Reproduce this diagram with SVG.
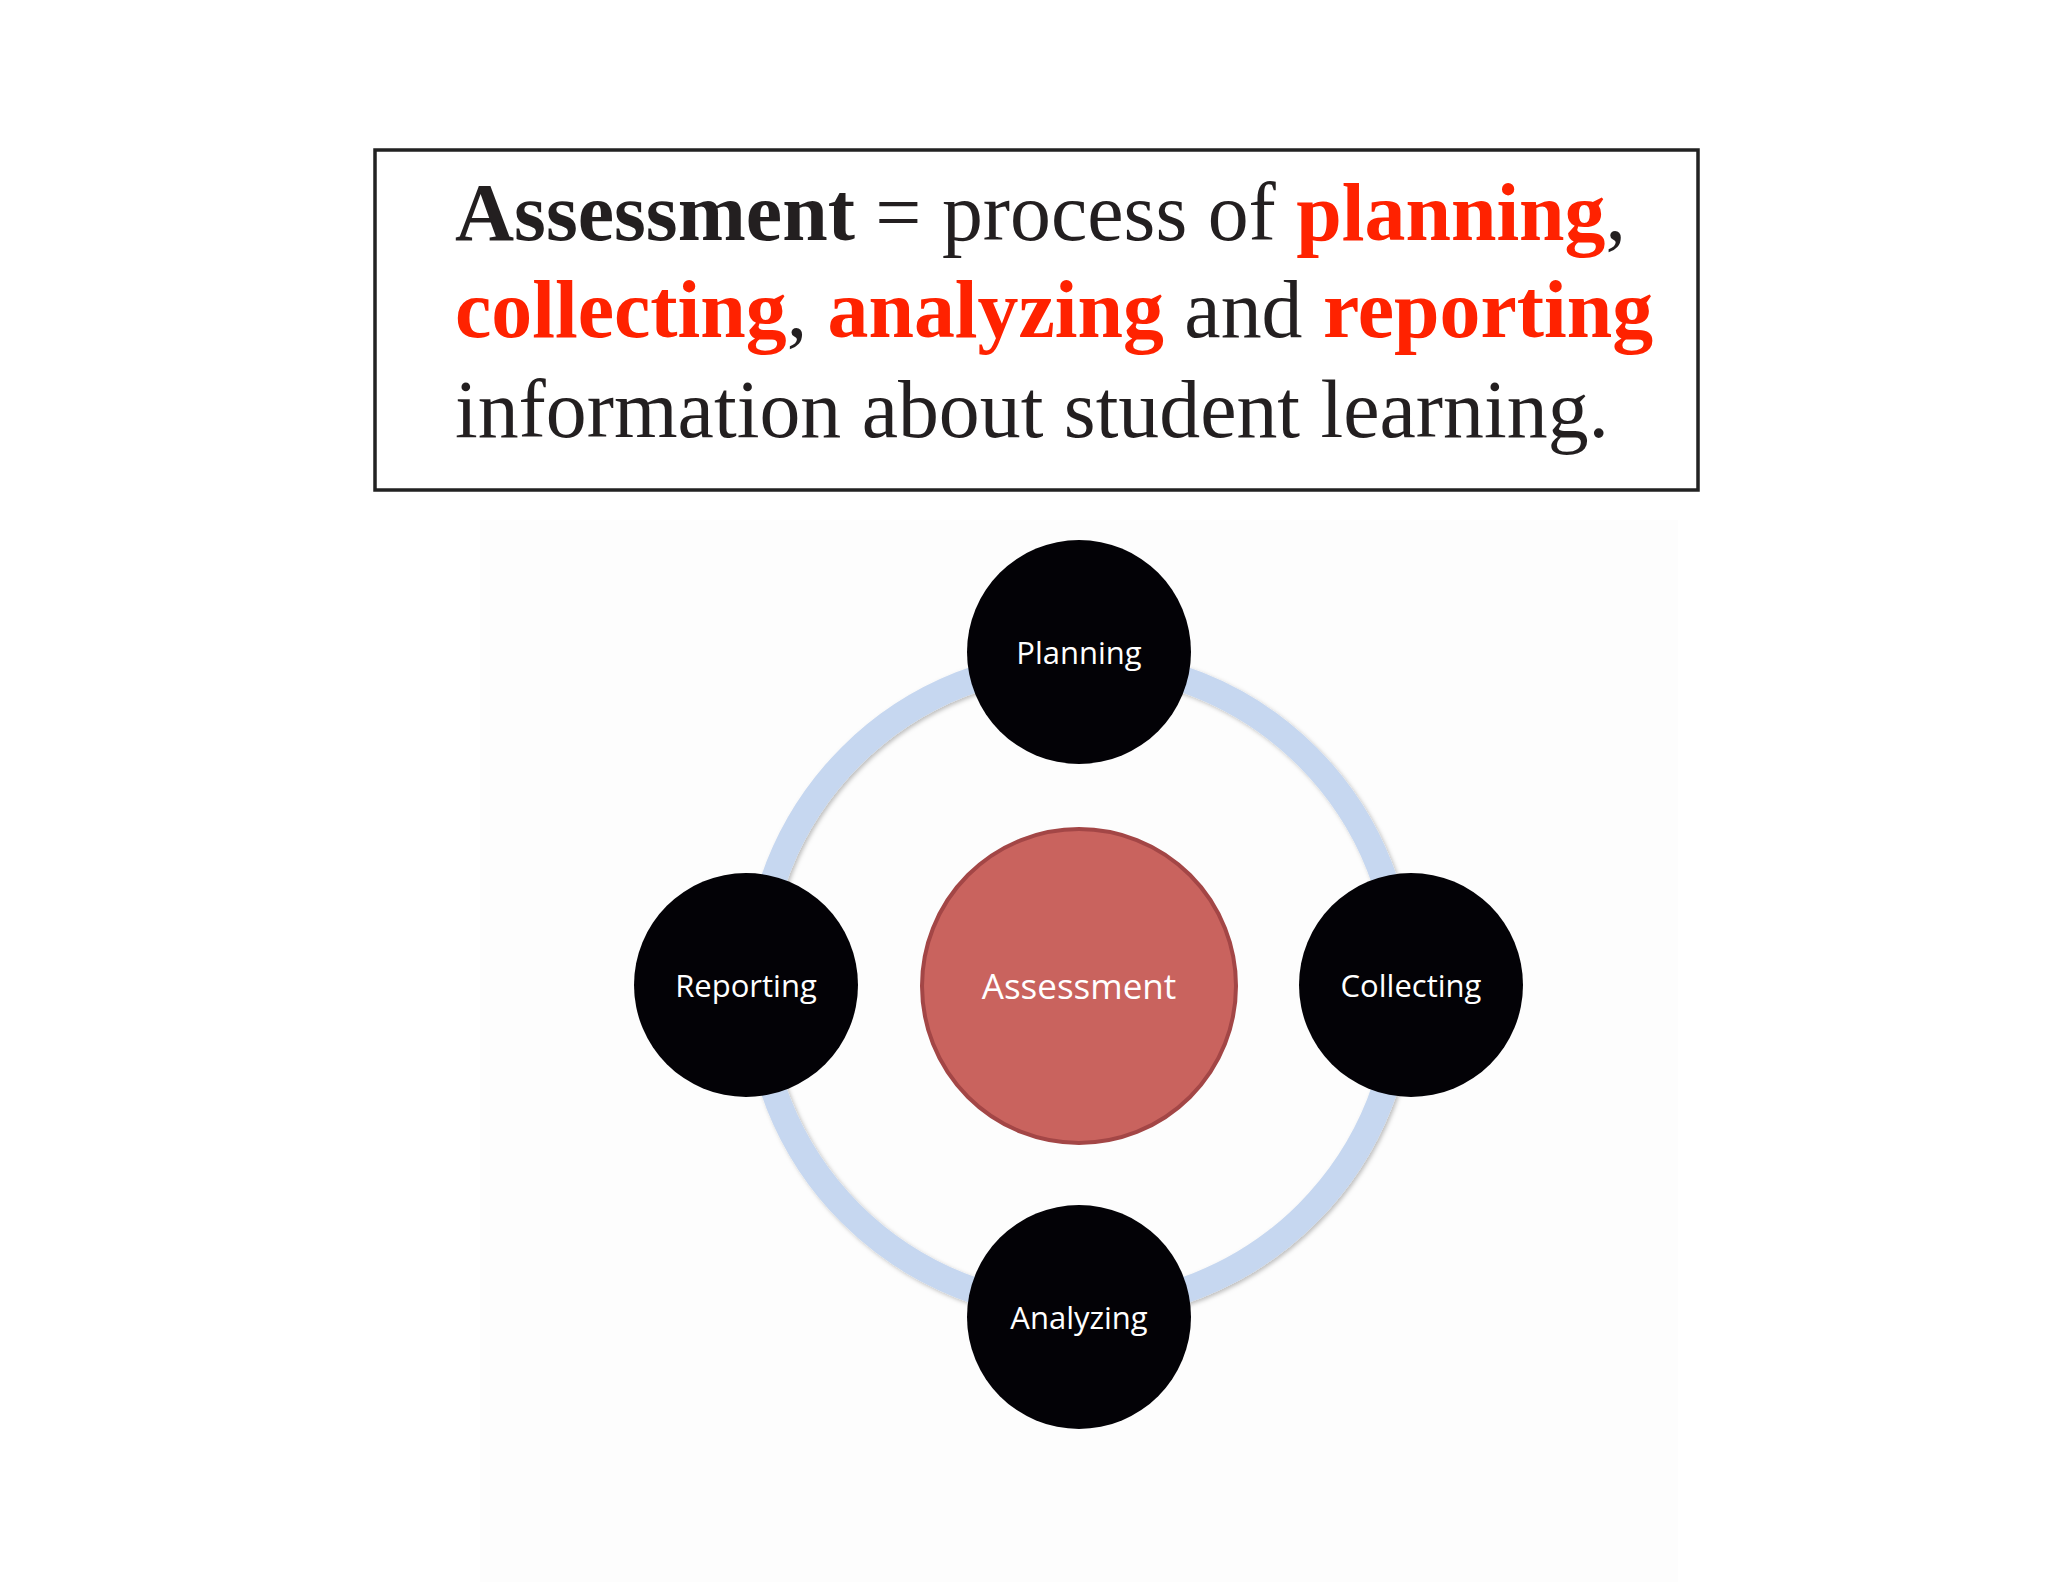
<svg xmlns="http://www.w3.org/2000/svg" width="2048" height="1582" viewBox="0 0 2048 1582">
  <style>
    .def { font-family: "Liberation Serif", "Times New Roman", serif; font-size: 81.8px; fill: #231F20; }
    .b { font-weight: bold; }
    .red { fill: #FF2200; font-weight: bold; }
    .node { fill: #030206; }
    .lbl { font-family: "Open Sans", "Noto Sans", sans-serif; font-size: 31px; fill: #FFFFFF; text-anchor: middle; }
    .center-lbl { font-family: "Open Sans", "Noto Sans", sans-serif; font-size: 35px; fill: #FFFFFF; text-anchor: middle; }
  </style>
  <defs>
    <filter id="shadow" x="-20%" y="-20%" width="140%" height="140%">
      <feDropShadow dx="2" dy="2" stdDeviation="2" flood-color="#000000" flood-opacity="0.25"/>
    </filter>
  </defs>
  <rect x="0" y="0" width="2048" height="1582" fill="#FFFFFF"/>
  <rect x="480" y="520" width="1198" height="1062" fill="#FDFDFD"/>

  <g id="definition">
    <rect x="375" y="150" width="1323" height="340" fill="#FFFFFF" stroke="#222222" stroke-width="3.5"/>
    <text class="def" x="455" y="240"><tspan class="b">Assessment</tspan> = process of <tspan class="red">planning</tspan>,</text>
    <text class="def" x="455" y="337"><tspan class="red">collecting</tspan>, <tspan class="red">analyzing</tspan> and <tspan class="red">reporting</tspan></text>
    <text class="def" x="455" y="437">information about student learning.</text>
  </g>

  <g id="connectors">
    <circle cx="1079" cy="985" r="323" fill="none" stroke="#C6D7F0" stroke-width="26" filter="url(#shadow)"/>
  </g>

  <g id="node-assessment">
    <circle cx="1079" cy="986" r="157" fill="#C9635E" stroke="#A34646" stroke-width="4"/>
    <text class="center-lbl" x="1079" y="999">Assessment</text>
  </g>
  <g id="node-planning">
    <circle class="node" cx="1079" cy="652" r="112"/>
    <text class="lbl" x="1079" y="664">Planning</text>
  </g>
  <g id="node-collecting">
    <circle class="node" cx="1411" cy="985" r="112"/>
    <text class="lbl" x="1411" y="997">Collecting</text>
  </g>
  <g id="node-analyzing">
    <circle class="node" cx="1079" cy="1317" r="112"/>
    <text class="lbl" x="1079" y="1329">Analyzing</text>
  </g>
  <g id="node-reporting">
    <circle class="node" cx="746" cy="985" r="112"/>
    <text class="lbl" x="746" y="997">Reporting</text>
  </g>
</svg>
